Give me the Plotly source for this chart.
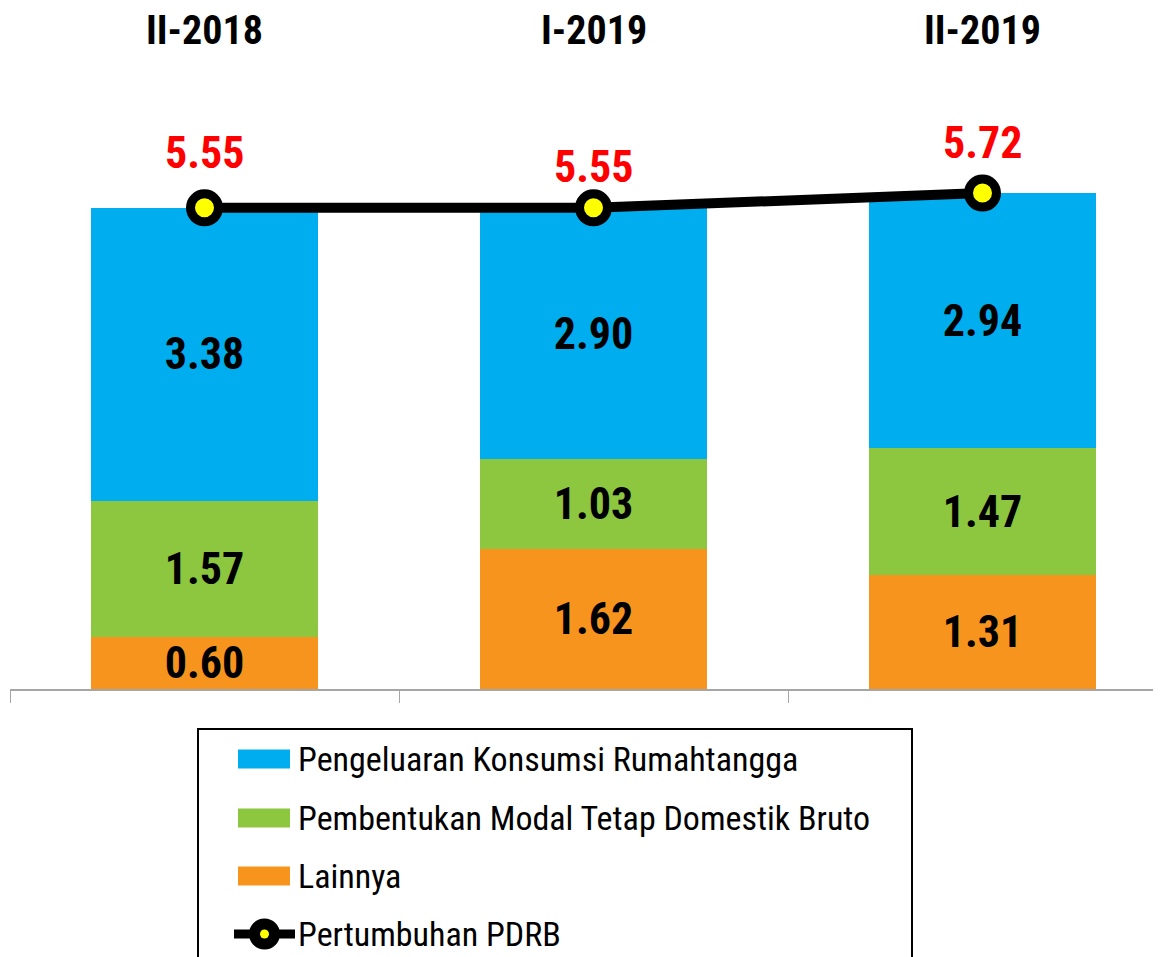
import plotly.graph_objects as go

# ---- data ----
categories = ["II-2018", "I-2019", "II-2019"]
konsumsi = [3.38, 2.90, 2.94]
pmtb = [1.57, 1.03, 1.47]
lainnya = [0.60, 1.62, 1.31]
pdrb = [5.55, 5.55, 5.72]
series_names = [
    "Pengeluaran Konsumsi Rumahtangga",
    "Pembentukan Modal Tetap Domestik Bruto",
    "Lainnya",
    "Pertumbuhan PDRB",
]

# ---- style ----
OFF = 8  # page body margin
W, H = 1161 - OFF, 957 - OFF
BASE = 689  # screenshot y of baseline
ML, MR, MT = 10 - OFF, 0, 0
MB = H - (BASE - OFF)
C_BLUE = "#00AEEF"
C_GREEN = "#8DC63F"
C_ORANGE = "#F7941D"
NARROW = "Liberation Sans Narrow, Arial Narrow, Roboto Condensed, Liberation Sans, Arial, sans-serif"
PX_PER_UNIT = 86.7
yr_max = (H - MB - MT) / PX_PER_UNIT
x_right = -0.5 + (W - ML - MR) / 389.0
label_shift = [27, 13, 22]

val_font = dict(family=NARROW, size=44, color="black", weight="bold")

fig = go.Figure()
for vals, color, name in [(lainnya, C_ORANGE, series_names[2]),
                          (pmtb, C_GREEN, series_names[1]),
                          (konsumsi, C_BLUE, series_names[0])]:
    fig.add_trace(go.Bar(
        x=list(range(len(categories))), y=vals, name=name,
        marker=dict(color=color, line=dict(width=0)),
        texttemplate="%{y:.2f}", textposition="inside", insidetextanchor="middle",
        textangle=0, constraintext="none", textfont=val_font, showlegend=False,
        width=0.584,
    ))

fig.add_trace(go.Scatter(
    x=list(range(len(categories))), y=pdrb, name=series_names[3], mode="lines+markers",
    line=dict(color="black", width=10),
    marker=dict(size=28, color="#FFFF00", line=dict(color="black", width=9)),
    showlegend=False,
))

annotations = []
for i, (v, s) in enumerate(zip(pdrb, label_shift)):
    annotations.append(dict(x=i, y=v, xref="x", yref="y", text=f"{v:.2f}",
                            showarrow=False, yshift=s, yanchor="bottom",
                            font=dict(family=NARROW, size=44, color="#FF0000", weight="bold")))
for i, c in enumerate(categories):
    annotations.append(dict(x=i, y=(BASE - 30) / PX_PER_UNIT, xref="x", yref="y",
                            text=c, showarrow=False, yanchor="middle",
                            font=dict(family=NARROW, size=40, color="black", weight="bold")))

# ---- manual legend (screenshot-pixel helpers) ----
pw = W - ML - MR
ph = H - MT - MB
def px(sx):
    return (sx - OFF - ML) / pw
def py(sy):
    return (H - MB - (sy - OFF)) / ph

shapes = [dict(type="rect", xref="paper", yref="paper",
               x0=px(198), x1=px(912), y0=py(729), y1=py(975),
               line=dict(color="black", width=2), fillcolor="rgba(0,0,0,0)")]
legend_y = [759, 818, 876, 934]
for yy, color in zip(legend_y[:3], [C_BLUE, C_GREEN, C_ORANGE]):
    shapes.append(dict(type="rect", xref="paper", yref="paper",
                       x0=px(238), x1=px(290), y0=py(yy - 9.5), y1=py(yy + 9.5),
                       line=dict(width=0), fillcolor=color))
yy = legend_y[3]
shapes.append(dict(type="line", xref="paper", yref="paper",
                   x0=px(234), x1=px(295), y0=py(yy), y1=py(yy),
                   line=dict(color="black", width=9)))
shapes.append(dict(type="circle", xref="paper", yref="paper",
                   x0=px(249), x1=px(280), y0=py(yy - 15.5), y1=py(yy + 15.5),
                   line=dict(width=0), fillcolor="black"))
shapes.append(dict(type="circle", xref="paper", yref="paper",
                   x0=px(260), x1=px(269), y0=py(yy - 4.5), y1=py(yy + 4.5),
                   line=dict(width=0), fillcolor="#FFFF00"))
for yy, name in zip(legend_y, series_names):
    annotations.append(dict(x=px(296), y=py(yy), xref="paper", yref="paper",
                            text=name, showarrow=False, xanchor="left", yanchor="middle",
                            font=dict(family=NARROW, size=34, color="black")))

fig.update_layout(
    width=W, height=H,
    margin=dict(l=ML, r=MR, t=MT, b=MB, pad=0),
    paper_bgcolor="white", plot_bgcolor="white",
    barmode="stack",
    showlegend=False,
    xaxis=dict(range=[-0.5, x_right], showgrid=False, zeroline=False,
               showline=True, linecolor="#A6A6A6", linewidth=2,
               tickmode="array", tickvals=[-0.5, 0.5, 1.5, 2.5], ticktext=["", "", "", ""],
               ticks="outside", ticklen=12, tickcolor="#A6A6A6", tickwidth=1,
               type="linear", fixedrange=True),
    yaxis=dict(range=[0, yr_max], visible=False, fixedrange=True),
    annotations=annotations,
    shapes=shapes,
)

fig.write_html("out.html")
